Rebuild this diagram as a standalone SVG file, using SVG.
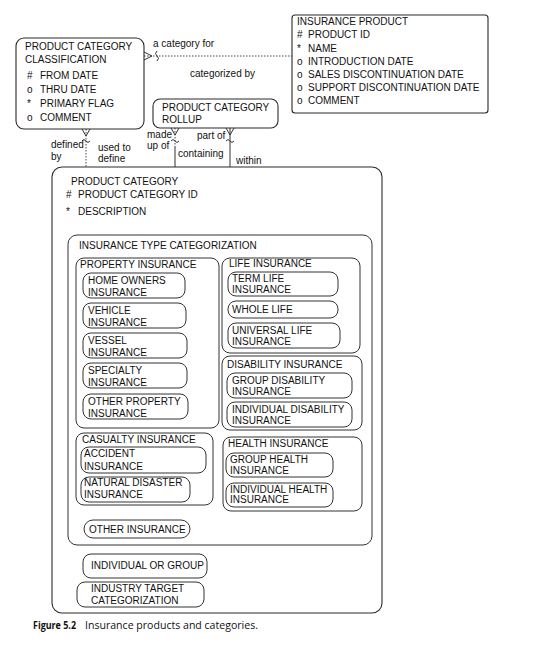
<svg xmlns="http://www.w3.org/2000/svg" width="548" height="651" viewBox="0 0 548 651">
  <defs>
    <style>
      text { font-family: "Liberation Sans", Arial, sans-serif; font-size: 10px; fill: #111; }
      .box { fill: #fff; stroke: #2a2a2a; stroke-width: 1.1; }
      .inner { fill: none; stroke: #333; stroke-width: 1; }
      .line { fill: none; stroke: #333; stroke-width: 1; }
      .dot { fill: none; stroke: #444; stroke-width: 1; stroke-dasharray: 1.5 1.5; }
      .cap { font-family: "Open Sans", "Liberation Sans", sans-serif; font-size: 10.5px; }
    </style>
  </defs>
  <rect width="548" height="651" fill="#fff"/>

  <!-- relationship lines, crow's feet and their role names -->
  <g id="connectors">
    <!-- classification to insurance product -->
    <path class="dot" d="M144,56 H292"/>
    <path class="line" d="M144,52 L152,56 L144,60"/>
    <path class="line" d="M157,51 q-3,2.5 0,5 t0,5"/>
    <text x="153" y="47">a category for</text>
    <text x="190" y="77">categorized by</text>

    <!-- classification to product category -->
    <path class="dot" d="M86,129 V167"/>
    <path class="line" d="M82,129 L86,136 L90,129"/>
    <path class="line" d="M82,141 q2,-3 4,0 t4,0"/>
    <text x="51" y="148">defined</text>
    <text x="51" y="160">by</text>
    <text x="98" y="151" font-size="9.5">used to</text>
    <text x="98" y="162" font-size="9.5">define</text>

    <!-- rollup to product category (parent side) -->
    <path class="dot" d="M175,128 V146"/>
    <path class="line" d="M175,146 V167"/>
    <path class="line" d="M171,128 L175,135 L179,128"/>
    <path class="line" d="M171,141 q2,-3 4,0 t4,0"/>
    <text x="147" y="138">made</text>
    <text x="147" y="149">up of</text>
    <text x="178" y="157">containing</text>

    <!-- rollup to product category (child side) -->
    <path class="line" d="M230,128 V167"/>
    <path class="line" d="M226,128 L230,135 L234,128"/>
    <path class="line" d="M226,141 q2,-3 4,0 t4,0"/>
    <text x="197" y="139">part of</text>
    <text x="236" y="164">within</text>
  </g>

  <!-- PRODUCT CATEGORY CLASSIFICATION -->
  <g id="product-category-classification">
    <rect class="box" x="16" y="38" width="128" height="91" rx="8"/>
    <text x="25" y="50">PRODUCT CATEGORY</text>
    <text x="25" y="63">CLASSIFICATION</text>
    <text x="27" y="79">#</text><text x="40" y="79">FROM DATE</text>
    <text x="27" y="93">o</text><text x="40" y="93">THRU DATE</text>
    <text x="27" y="107">*</text><text x="40" y="107">PRIMARY FLAG</text>
    <text x="27" y="121">o</text><text x="40" y="121">COMMENT</text>
  </g>

  <!-- INSURANCE PRODUCT -->
  <g id="insurance-product">
    <rect class="box" x="292" y="15" width="196" height="98" rx="3"/>
    <text x="297" y="25">INSURANCE PRODUCT</text>
    <text x="297" y="38">#</text><text x="308" y="38">PRODUCT ID</text>
    <text x="297" y="52">*</text><text x="308" y="52">NAME</text>
    <text x="297" y="65">o</text><text x="308" y="65">INTRODUCTION DATE</text>
    <text x="297" y="78">o</text><text x="308" y="78">SALES DISCONTINUATION DATE</text>
    <text x="297" y="91">o</text><text x="308" y="91">SUPPORT DISCONTINUATION DATE</text>
    <text x="297" y="104">o</text><text x="308" y="104">COMMENT</text>
  </g>

  <!-- PRODUCT CATEGORY ROLLUP -->
  <g id="product-category-rollup">
    <rect class="box" x="153" y="99" width="125" height="29" rx="7"/>
    <text x="162" y="111">PRODUCT CATEGORY</text>
    <text x="162" y="123">ROLLUP</text>
  </g>

  <!-- PRODUCT CATEGORY with its subtypes -->
  <g id="product-category">
    <rect class="box" x="52" y="167" width="330" height="446" rx="10"/>
    <text x="71" y="185">PRODUCT CATEGORY</text>
    <text x="66" y="198">#</text><text x="78" y="198">PRODUCT CATEGORY ID</text>
    <text x="66" y="215">*</text><text x="78" y="215">DESCRIPTION</text>
  </g>

  <g id="insurance-type-categorization">
    <rect class="inner" x="68" y="235" width="304" height="310" rx="9"/>
    <text x="79" y="249">INSURANCE TYPE CATEGORIZATION</text>
  </g>

  <g id="property-insurance">
    <rect class="inner" x="76" y="258" width="143" height="170" rx="8"/>
    <text x="80" y="268">PROPERTY INSURANCE</text>
  </g>
  <g id="home-owners-insurance">
    <rect class="inner" x="83" y="273" width="102" height="25" rx="8"/>
    <text x="88" y="284">HOME OWNERS</text><text x="88" y="296">INSURANCE</text>
  </g>
  <g id="vehicle-insurance">
    <rect class="inner" x="83" y="303" width="103" height="25" rx="8"/>
    <text x="88" y="314">VEHICLE</text><text x="88" y="326">INSURANCE</text>
  </g>
  <g id="vessel-insurance">
    <rect class="inner" x="83" y="333" width="104" height="25" rx="8"/>
    <text x="88" y="344">VESSEL</text><text x="88" y="356">INSURANCE</text>
  </g>
  <g id="specialty-insurance">
    <rect class="inner" x="83" y="363" width="104" height="25" rx="8"/>
    <text x="88" y="374">SPECIALTY</text><text x="88" y="386">INSURANCE</text>
  </g>
  <g id="other-property-insurance">
    <rect class="inner" x="83" y="394" width="105" height="25" rx="8"/>
    <text x="88" y="405">OTHER PROPERTY</text><text x="88" y="417">INSURANCE</text>
  </g>

  <g id="life-insurance">
    <rect class="inner" x="222" y="258" width="138" height="95" rx="8"/>
    <text x="229" y="267">LIFE INSURANCE</text>
  </g>
  <g id="term-life">
    <rect class="inner" x="228" y="272" width="110" height="24" rx="8"/>
    <text x="232" y="282">TERM LIFE</text><text x="232" y="293">INSURANCE</text>
  </g>
  <g id="whole-life">
    <rect class="inner" x="228" y="301" width="110" height="17" rx="8"/>
    <text x="232" y="313">WHOLE LIFE</text>
  </g>
  <g id="universal-life">
    <rect class="inner" x="228" y="323" width="112" height="25" rx="8"/>
    <text x="232" y="334">UNIVERSAL LIFE</text><text x="232" y="345">INSURANCE</text>
  </g>

  <g id="disability-insurance">
    <rect class="inner" x="222" y="356" width="140" height="74" rx="8"/>
    <text x="227" y="368">DISABILITY INSURANCE</text>
  </g>
  <g id="group-disability">
    <rect class="inner" x="227" y="373" width="125" height="25" rx="8"/>
    <text x="232" y="384">GROUP DISABILITY</text><text x="232" y="395">INSURANCE</text>
  </g>
  <g id="individual-disability">
    <rect class="inner" x="227" y="402" width="125" height="25" rx="8"/>
    <text x="232" y="413">INDIVIDUAL DISABILITY</text><text x="232" y="424">INSURANCE</text>
  </g>

  <g id="casualty-insurance">
    <rect class="inner" x="76" y="433" width="137" height="72" rx="8"/>
    <text x="82" y="443">CASUALTY INSURANCE</text>
  </g>
  <g id="accident-insurance">
    <rect class="inner" x="81" y="447" width="125" height="26" rx="8"/>
    <text x="84" y="457">ACCIDENT</text><text x="84" y="470">INSURANCE</text>
  </g>
  <g id="natural-disaster-insurance">
    <rect class="inner" x="81" y="477" width="109" height="25" rx="8"/>
    <text x="84" y="486">NATURAL DISASTER</text><text x="84" y="498">INSURANCE</text>
  </g>

  <g id="health-insurance">
    <rect class="inner" x="223" y="437" width="139" height="74" rx="8"/>
    <text x="228" y="447">HEALTH INSURANCE</text>
  </g>
  <g id="group-health">
    <rect class="inner" x="226" y="453" width="107" height="24" rx="8"/>
    <text x="230" y="463">GROUP HEALTH</text><text x="230" y="474">INSURANCE</text>
  </g>
  <g id="individual-health">
    <rect class="inner" x="226" y="483" width="107" height="24" rx="8"/>
    <text x="230" y="493">INDIVIDUAL HEALTH</text><text x="230" y="503">INSURANCE</text>
  </g>

  <g id="other-insurance">
    <rect class="inner" x="84" y="520" width="106" height="18" rx="9"/>
    <text x="89" y="533">OTHER INSURANCE</text>
  </g>

  <g id="individual-or-group">
    <rect class="inner" x="83" y="554" width="124" height="24" rx="8"/>
    <text x="91" y="569">INDIVIDUAL OR GROUP</text>
  </g>
  <g id="industry-target-categorization">
    <rect class="inner" x="77" y="582" width="127" height="25" rx="8"/>
    <text x="91" y="592">INDUSTRY TARGET</text><text x="91" y="604">CATEGORIZATION</text>
  </g>

  <!-- caption -->
  <text class="cap" x="33" y="629" font-weight="bold" textLength="43" lengthAdjust="spacingAndGlyphs">Figure 5.2</text>
  <text class="cap" x="85" y="629" textLength="173" lengthAdjust="spacingAndGlyphs">Insurance products and categories.</text>
</svg>
